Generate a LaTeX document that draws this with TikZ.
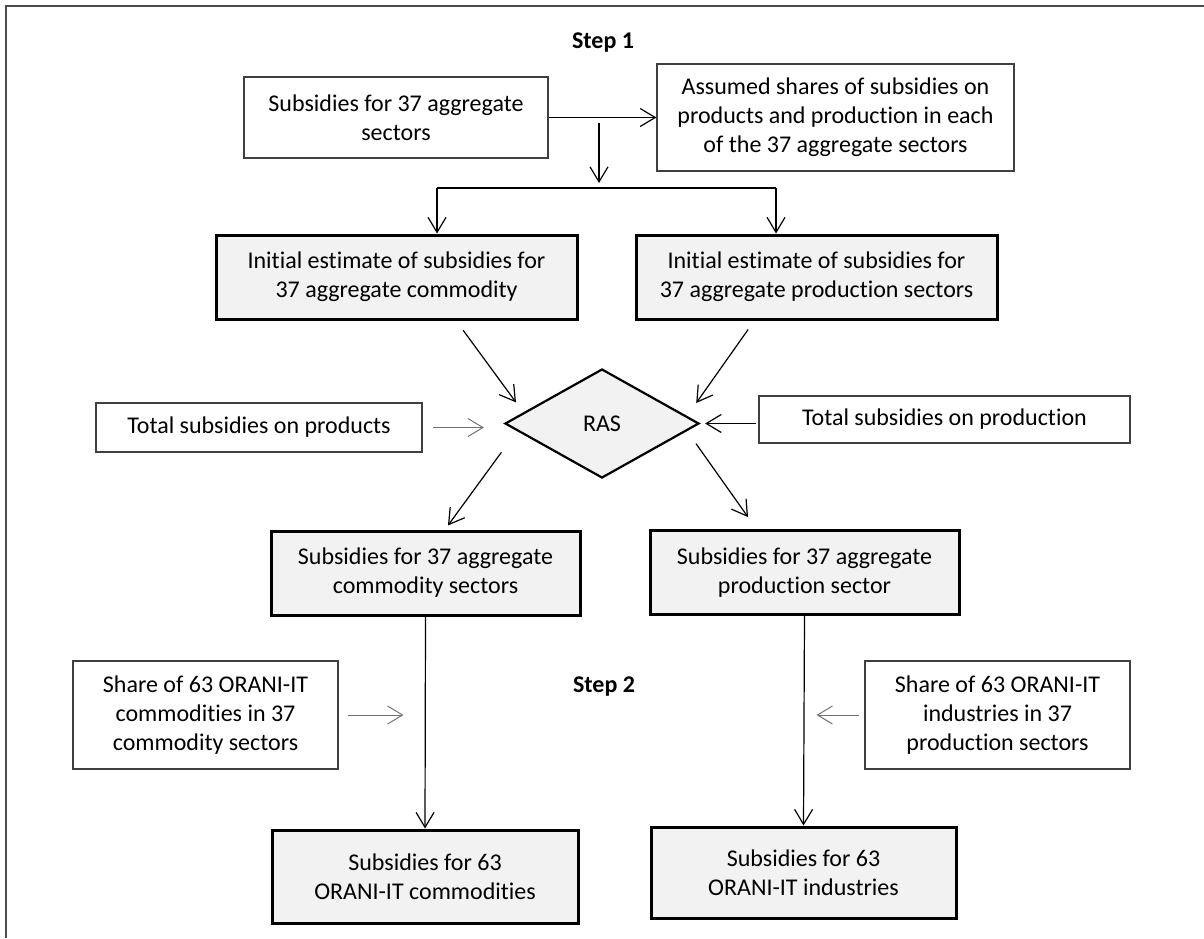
\documentclass[tikz,border=0pt]{standalone}
\usepackage{fontspec}
\setmainfont{Carlito}[Ligatures=NoCommon]
\usetikzlibrary{arrows.meta,shapes.geometric}

\begin{document}
\begin{tikzpicture}[x=1pt, y=-1pt,
    font=\fontsize{24}{29}\selectfont,
    plainbox/.style={draw=black!75, line width=1.3pt, align=center, inner sep=0pt},
    mainbox/.style={draw=black, line width=3pt, fill=black!5, align=center, inner sep=0pt},
    arr/.style={-{Straight Barb[length=15pt,width=18pt]}, line width=1.2pt},
    lightarr/.style={arr, draw=black!55, line width=1pt}]

    \useasboundingbox (0,0) rectangle (1204,938);

    % frame
    \draw[line width=1.5pt, black!70] (6,938) -- (6,6) -- (1204,6);

    \node[font=\fontsize{24}{29}\selectfont\bfseries] (step1) at (603,43) {Step 1};
    \node[font=\fontsize{24}{29}\selectfont\bfseries] (step2) at (604,687) {Step 2};

    % step 1 boxes
    \node[plainbox, minimum width=304pt, minimum height=81pt] (agg) at (396,117.5)
        {Subsidies for 37 aggregate\\sectors};
    \node[plainbox, minimum width=357pt, minimum height=107pt] (shares) at (835.5,117.5)
        {Assumed shares of subsidies on\\products and production in each\\of the 37 aggregate sectors};
    \node[mainbox, minimum width=361pt, minimum height=84pt] (initC) at (396.5,277)
        {Initial estimate of subsidies for\\37 aggregate commodity};
    \node[mainbox, minimum width=361pt, minimum height=84pt] (initP) at (816.5,277)
        {Initial estimate of subsidies for\\37 aggregate production sectors};

    \node[diamond, draw, line width=2.2pt, fill=black!5, inner sep=0pt, aspect=1.8,
        minimum width=194pt, minimum height=109pt] (ras) at (602,423.5) {RAS};
    \node[plainbox, minimum width=326pt, minimum height=49pt] (totC) at (259,427.5)
        {Total subsidies on products};
    \node[plainbox, minimum width=371pt, minimum height=47pt] (totP) at (944.5,419.5)
        {Total subsidies on production};

    \node[mainbox, minimum width=309pt, minimum height=84pt] (subC) at (425.5,573)
        {Subsidies for 37 aggregate\\commodity sectors};
    \node[mainbox, minimum width=309pt, minimum height=84pt] (subP) at (804.5,572.5)
        {Subsidies for 37 aggregate\\production sector};

    % step 2 boxes
    \node[plainbox, minimum width=265pt, minimum height=108pt] (shareC) at (205.5,715)
        {Share of 63 ORANI-IT\\commodities in 37\\commodity sectors};
    \node[plainbox, minimum width=265pt, minimum height=108pt] (shareP) at (997.5,715)
        {Share of 63 ORANI-IT\\industries in 37\\production sectors};
    \node[mainbox, minimum width=306pt, minimum height=93pt] (outC) at (425,876.5)
        {Subsidies for 63\\ORANI-IT commodities};
    \node[mainbox, minimum width=305pt, minimum height=91pt] (outP) at (803.5,872.5)
        {Subsidies for 63\\ORANI-IT industries};

    % split
    \draw[arr] (agg.east) -- (shares.west);
    \coordinate (fork) at (599,123);
    \coordinate (brC) at (437,188);
    \coordinate (brP) at (776,188);
    \draw[arr] (fork) -- ++(0,60);
    \draw[line width=1.2pt] (brC) -- (brP);
    \draw[arr] (brC) -- (brC |- initC.north);
    \draw[arr] (brP) -- (brP |- initP.north);

    % into ras
    \draw[arr, shorten <=12pt, shorten >=12.5pt] ([xshift=59.5pt]initC.south) -- (ras.172);
    \draw[arr, shorten <=11pt, shorten >=16pt] ([xshift=-62pt]initP.south) -- (ras.5);
    \draw[lightarr, shorten <=10pt, shorten >=20pt] (totC.east) -- (totC.east -| ras.west);
    \draw[arr, shorten <=2pt, shorten >=5pt] (totP.west |- ras.east) -- (ras.east);

    % out of ras
    \draw[arr, shorten <=26.5pt, shorten >=5pt] (ras.185) -- ([xshift=19.5pt]subC.north);
    \draw[arr, shorten <=15.6pt, shorten >=14.6pt] (ras.355) -- ([xshift=-48pt]subP.north);

    % step 2
    \draw[arr] (subC.south) -- (outC.north);
    \draw[arr] (subP.south) -- (outP.north);
    \draw[lightarr, shorten <=9pt, shorten >=22pt] (shareC.east) -- (shareC.east -| subC.south);
    \draw[lightarr, shorten <=5pt, shorten >=12pt] (shareP.west) -- (shareP.west -| subP.south);

\end{tikzpicture}
\end{document}
